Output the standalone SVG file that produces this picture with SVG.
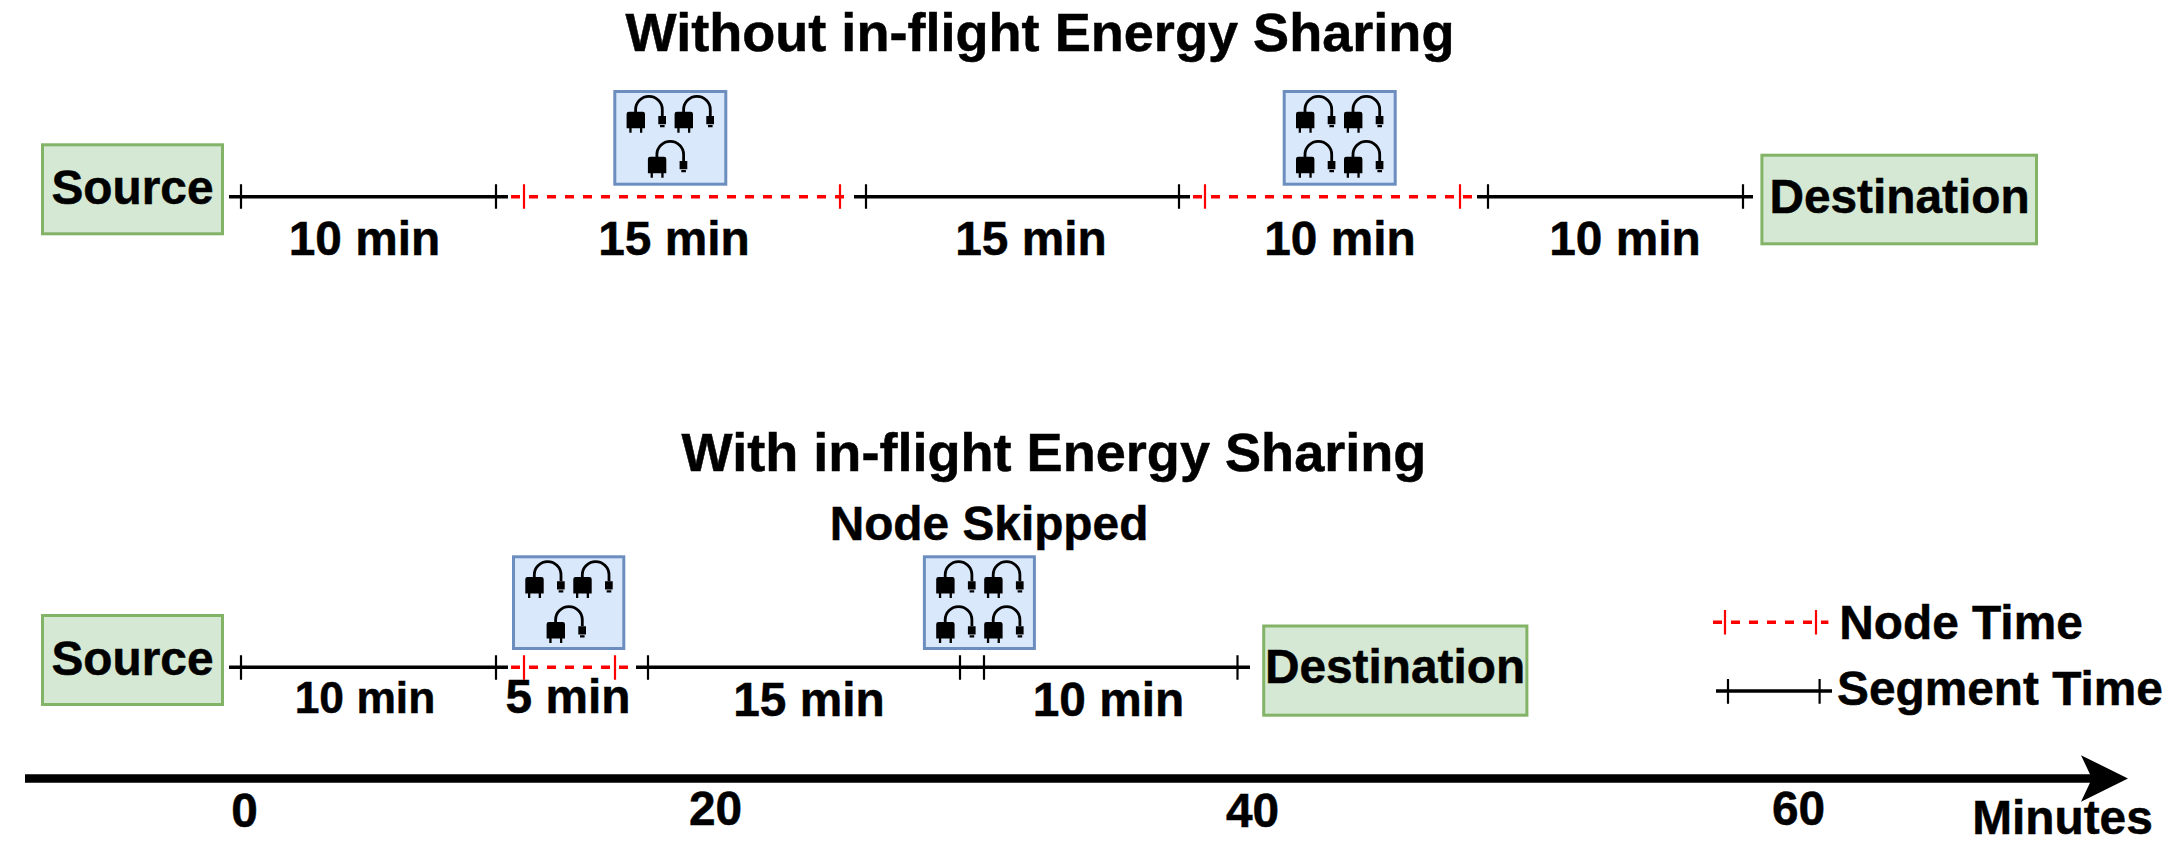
<svg xmlns="http://www.w3.org/2000/svg" xmlns:xlink="http://www.w3.org/1999/xlink" width="2184" height="852" viewBox="0 0 2184 852">
<style>
text{font-family:"Liberation Sans",Arial,sans-serif;font-weight:700;fill:#000;text-anchor:middle;stroke:#000;stroke-width:.5px}
.t{font-size:54.1px}.l{font-size:47.8px}.s{font-size:44.4px}
.g{fill:#d5e8d4;stroke:#82b366;stroke-width:3}
.b{fill:#dae8fc;stroke:#6c8ebf;stroke-width:3}
.k{stroke:#000;stroke-width:3.4;fill:none}
.r{stroke:#f00;stroke-width:3.4;fill:none;stroke-dasharray:9 9}
.kt{stroke:#000;stroke-width:2.2;fill:none}
.rt{stroke:#f00;stroke-width:2.2;fill:none}
</style>
<defs>
<g id="plug">
<path d="M13.3 38.3V24a2.3 2.3 0 0 1 2.3-2.3H29.4a2.3 2.3 0 0 1 2.3 2.3V38.3Z M16 38.3h2.3v4.4H16Z M26.7 38.3H29v4.4H26.7Z M45 26h7.7v8.3H45Z M46.7 35h4.6v2.3H46.7Z"/>
<path d="M22.3 22V19.5A13.35 13.1 0 0 1 49 19.5V26" fill="none" stroke="#000" stroke-width="2.8"/>
</g>
<g id="n3"><use xlink:href="#plug" href="#plug"/><use xlink:href="#plug" href="#plug" x="48"/><use xlink:href="#plug" href="#plug" x="21.3" y="45"/></g>
<g id="n4"><use xlink:href="#plug" href="#plug"/><use xlink:href="#plug" href="#plug" x="48"/><use xlink:href="#plug" href="#plug" y="45"/><use xlink:href="#plug" href="#plug" x="48" y="45"/></g>
<marker id="head" markerUnits="userSpaceOnUse" markerWidth="50" markerHeight="50" refX="11" refY="25" orient="auto" viewBox="0 0 50 50"><path d="M0 1.7L47 25L0 48.3L11 25Z" fill="#000"/></marker>
</defs>

<text class="t" x="1040" y="51">Without in-flight Energy Sharing</text>
<text class="t" x="1054" y="471">With in-flight Energy Sharing</text>
<text class="l" x="989" y="540">Node Skipped</text>

<g id="connectors">
<path class="k" d="M229 196.7H508M854 196.7H1190M1477 196.7H1753"/>
<path class="kt" d="M241 184.3V208.7M496 184.3V208.7M866 184.3V208.7M1179 184.3V208.7M1488 184.3V208.7M1743 184.3V208.7"/>
<path class="r" d="M511 196.7H853M1193 196.7H1473"/>
<path class="rt" d="M524 184.3V208.7M840 184.3V208.7M1205 184.3V208.7M1460 184.3V208.7"/>
<path class="k" d="M229 667.3H508M636 667.3H1250"/>
<path class="kt" d="M241 655.3V679.7M496 655.3V679.7M648 655.3V679.7M960 655.3V679.7M984 655.3V679.7M1237.5 655.3V679.7"/>
<path class="r" d="M511 667.3H628"/>
<path class="rt" d="M524 655.3V679.7M615 655.3V679.7"/>
<path class="r" d="M1713 622.3H1828.4"/>
<path class="rt" d="M1725 610V634.4M1816 610V634.4"/>
<path class="k" d="M1716 691H1832"/>
<path class="kt" d="M1728 679V703.7M1819.6 679V703.7"/>
<path d="M25 778.5H2092" stroke="#000" stroke-width="8.7" fill="none" marker-end="url(#head)"/>
</g>

<g id="source-top"><rect class="g" x="42.5" y="144.8" width="180" height="89"/><text class="l" x="132.5" y="204">Source</text></g>
<g id="node-top-1"><rect class="b" x="614.8" y="91.5" width="111" height="92.7"/><use xlink:href="#n3" href="#n3" x="613.3" y="90"/></g>
<g id="node-top-2"><rect class="b" x="1284.2" y="91.5" width="111" height="92.7"/><use xlink:href="#n4" href="#n4" x="1282.7" y="90"/></g>
<g id="destination-top"><rect class="g" x="1761.9" y="155.2" width="274.6" height="88.6"/><text class="l" x="1899.5" y="212.7">Destination</text></g>
<g id="source-bottom"><rect class="g" x="42.5" y="615.5" width="180" height="89"/><text class="l" x="132.5" y="675">Source</text></g>
<g id="node-bottom-1"><rect class="b" x="513.5" y="556.8" width="110.3" height="91.7"/><use xlink:href="#n3" href="#n3" x="512" y="555.3"/></g>
<g id="node-bottom-2"><rect class="b" x="924.4" y="556.8" width="110" height="91.7"/><use xlink:href="#n4" href="#n4" x="922.9" y="555.3"/></g>
<g id="destination-bottom"><rect class="g" x="1263.7" y="626" width="263.2" height="89.2"/><text class="l" x="1395" y="683">Destination</text></g>

<g id="labels">
<text class="l" x="364.5" y="255">10 min</text>
<text class="l" x="674" y="255">15 min</text>
<text class="l" x="1031" y="255">15 min</text>
<text class="l" x="1340" y="255">10 min</text>
<text class="l" x="1625" y="255">10 min</text>
<text class="s" x="365" y="713">10 min</text>
<text class="l" x="568" y="713">5 min</text>
<text class="l" x="809" y="716">15 min</text>
<text class="l" x="1108.5" y="716">10 min</text>
<text class="l" x="244.5" y="827">0</text>
<text class="l" x="715.5" y="825">20</text>
<text class="l" x="1252.5" y="827">40</text>
<text class="l" x="1798.5" y="825">60</text>
<text class="l" x="2062.5" y="834">Minutes</text>
<text class="l" x="1961" y="639">Node Time</text>
<text class="l" x="2000" y="705">Segment Time</text>
</g>
</svg>
